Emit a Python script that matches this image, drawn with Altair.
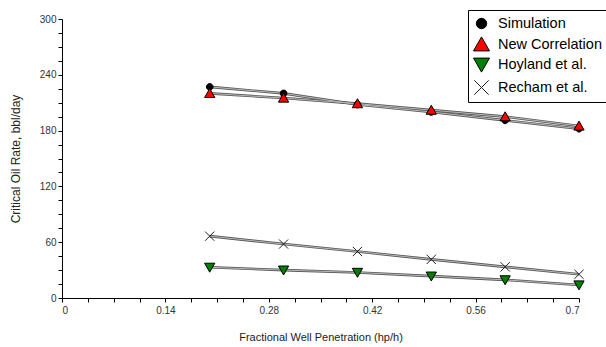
import altair as alt
import pandas as pd

penetration = [0.2, 0.3, 0.4, 0.5, 0.6, 0.7]
series_names = ["Simulation", "New Correlation", "Hoyland et al.", "Recham et al."]
simulation = [227, 220, 208, 200, 191, 182]
new_correlation = [220, 215, 209, 202, 195, 185]
hoyland = [33, 30, 27.5, 23.5, 19.5, 14]
recham = [66.5, 58, 50, 41.5, 33.5, 25.5]
x_ticks = [round(i * 0.035, 3) for i in range(21)]
y_ticks = [i * 15 for i in range(21)]

rows = []
for name, vals in zip(series_names, [simulation, new_correlation, hoyland, recham]):
    for x, y in zip(penetration, vals):
        rows.append({"x": x, "y": y, "series": name})
df = pd.DataFrame(rows)

xenc = alt.X("x:Q", scale=alt.Scale(domain=[0, 0.7], nice=False, zero=True),
             axis=alt.Axis(values=x_ticks, title="Fractional Well Penetration (hp/h)",
                           labelExpr="round(datum.value * 1000) % 140 == 0 ? format(datum.value, '.2~f') : ''",
                           grid=False, tickSize=4, labelPadding=3, titlePadding=16))
yenc = alt.Y("y:Q", scale=alt.Scale(domain=[0, 300], nice=False),
             axis=alt.Axis(values=y_ticks, title="Critical Oil Rate, bbl/day",
                           labelExpr="datum.value % 60 == 0 ? datum.label : ''",
                           grid=False, tickSize=4, labelPadding=2, titlePadding=17))

base = alt.Chart(df)
line_dark = base.mark_line(color="#555555", strokeWidth=2.6).encode(x=xenc, y=yenc, detail="series:N")
line_light = base.mark_line(color="#b8b8b8", strokeWidth=1.0).encode(x=xenc, y=yenc, detail="series:N")

circle_path = "M0.65,0A0.65,0.65,0,1,1,-0.65,0A0.65,0.65,0,1,1,0.65,0Z"
tri_up = "M0,-0.95L1,0.8L-1,0.8Z"
tri_down = "M0,0.95L1,-0.8L-1,-0.8Z"
x_path = "M-0.9,-0.9L0.9,0.9M-0.9,0.9L0.9,-0.9"

leg = alt.Legend(title=None, orient="none", legendX=406, legendY=-9)
points = base.mark_point(filled=True, strokeWidth=1, size=105, opacity=1).encode(
    x=xenc, y=yenc,
    shape=alt.Shape("series:N", sort=series_names,
                    scale=alt.Scale(domain=series_names, range=[circle_path, tri_up, tri_down, x_path]),
                    legend=leg),
    fill=alt.Fill("series:N", sort=series_names,
                  scale=alt.Scale(domain=series_names, range=["black", "#ff0000", "#008000", "transparent"]),
                  legend=leg),
    stroke=alt.Stroke("series:N", sort=series_names,
                      scale=alt.Scale(domain=series_names, range=["black", "black", "black", "#222222"]),
                      legend=leg),
)

chart = alt.layer(line_dark, line_light, points).properties(
    width=517, height=279,
    autosize=alt.AutoSizeParams(type="none"),
    padding={"left": 62, "top": 19, "right": 27, "bottom": 49},
).configure_view(stroke=None).configure_axis(
    labelFont="Liberation Sans", titleFont="Liberation Sans", labelFontSize=10, titleFontSize=11,
    labelColor="#333333", titleColor="#222222", titleFontWeight="normal",
    domainColor="black", tickColor="black",
).configure_axisY(titleFontSize=12).configure_legend(
    labelFont="Liberation Sans", labelFontSize=14.5, labelColor="black",
    strokeColor="black", fillColor="white", padding=5, rowPadding=3,
    symbolSize=256, symbolStrokeWidth=1, symbolOpacity=1,
    cornerRadius=0, labelOffset=8,
)

chart.save("out.html", embed_options={"renderer": "svg", "actions": False})
